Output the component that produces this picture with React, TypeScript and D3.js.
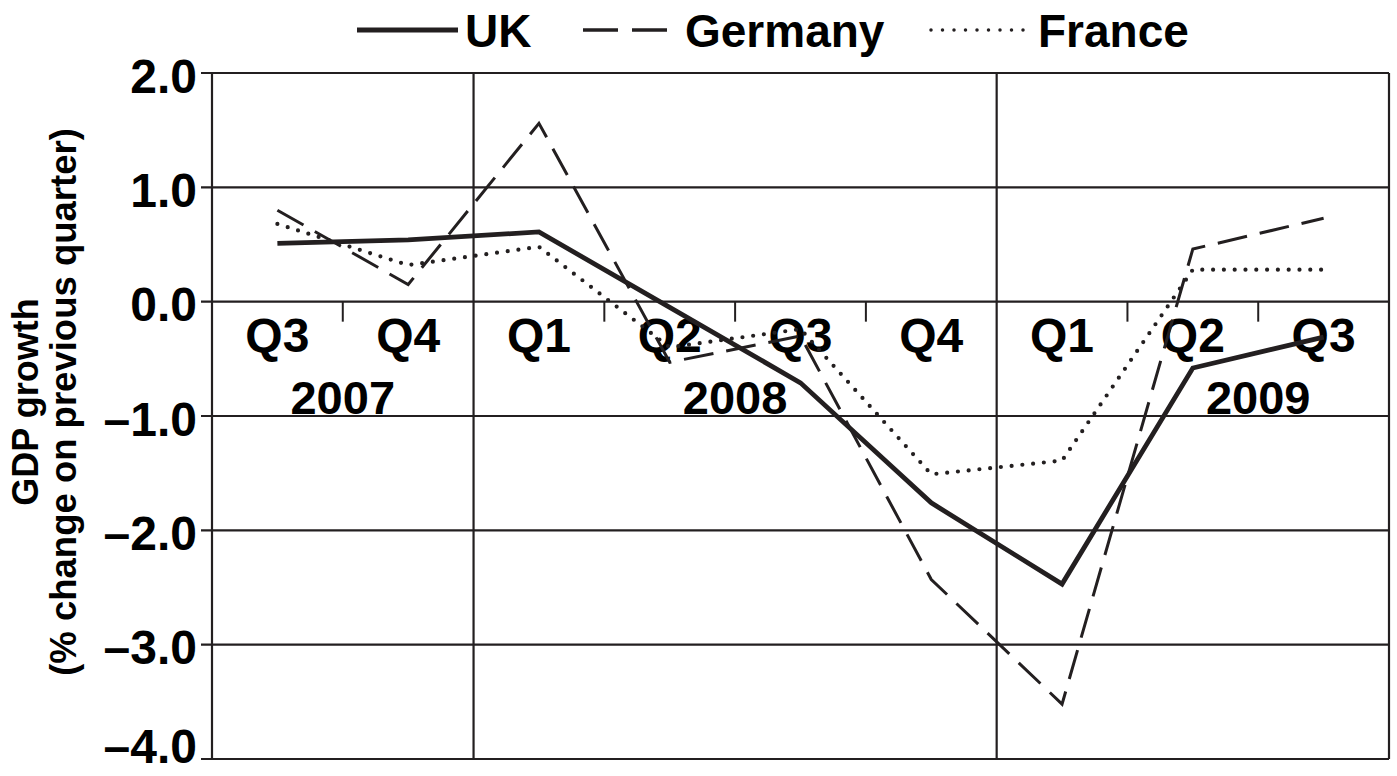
import React from "react";
import * as d3 from "d3";

const quarters = ["Q3", "Q4", "Q1", "Q2", "Q3", "Q4", "Q1", "Q2", "Q3"];
const years = ["2007", "2008", "2009"];
const yearBoundary = [1, 4, 8]; // year label sits on these quarter boundaries
const yearDividers = [2, 6];
const uk = [0.51, 0.54, 0.61, -0.05, -0.71, -1.76, -2.47, -0.58, -0.31];
const germany = [0.8, 0.15, 1.56, -0.53, -0.3, -2.43, -3.52, 0.46, 0.73];
const france = [0.68, 0.32, 0.48, -0.4, -0.24, -1.51, -1.39, 0.28, 0.28];
const yTicks = [2, 1, 0, -1, -2, -3, -4];

const W = 1397;
const H = 776;
const INK = "#231f20";
const FONT = "'Liberation Sans', Arial, Helvetica, sans-serif";

export default function App() {
  const left = 212;
  const right = 1389;
  const top = 73;
  const bottom = 759;

  const x = d3
    .scaleBand<number>()
    .domain(d3.range(quarters.length))
    .range([left, right])
    .padding(0);
  const bw = x.bandwidth();
  const cx = (i: number) => (x(i) as number) + bw / 2;
  const edge = (i: number) => left + i * bw;

  const y = d3.scaleLinear().domain([-4, 2]).range([bottom, top]);

  const line = d3
    .line<number>()
    .x((_, i) => cx(i))
    .y((d) => y(d));

  const series = [
    { name: "UK", data: uk, width: 4.8, dash: undefined as string | undefined, cap: "butt" },
    { name: "Germany", data: germany, width: 3, dash: "30 13", cap: "butt" },
    { name: "France", data: france, width: 4.2, dash: "0 10.8", cap: "round" },
  ];

  const minorTicks = d3.range(1, quarters.length).filter((i) => !yearDividers.includes(i));

  const legend = [
    { name: "UK", x1: 357, x2: 458, tx: 465, width: 5, dash: undefined as string | undefined, cap: "butt" },
    { name: "Germany", x1: 583, x2: 668, tx: 685, width: 3.5, dash: "35 14", cap: "butt" },
    { name: "France", x1: 931, x2: 1024, tx: 1038, width: 3.5, dash: "0 11.5", cap: "round" },
  ];

  return (
    <svg
      width={W}
      height={H}
      style={{ position: "absolute", left: 0, top: 0, background: "#fff" }}
      fontFamily={FONT}
      fontWeight="bold"
    >
      <rect x={0} y={0} width={W} height={H} fill="#fff" />
      {/* horizontal grid */}
      {yTicks.map((t) => (
        <line key={"h" + t} x1={left - 11} x2={right} y1={y(t)} y2={y(t)} stroke={INK} strokeWidth={2.2} />
      ))}
      {/* vertical frame and dividers */}
      <line x1={left} x2={left} y1={top} y2={bottom} stroke={INK} strokeWidth={2.2} />
      <line x1={right} x2={right} y1={top} y2={bottom} stroke={INK} strokeWidth={2.2} />
      {yearDividers.map((i) => (
        <line key={"v" + i} x1={edge(i)} x2={edge(i)} y1={top} y2={bottom} stroke={INK} strokeWidth={2.2} />
      ))}
      {/* minor ticks under zero line */}
      {minorTicks.map((i) => (
        <line key={"t" + i} x1={edge(i)} x2={edge(i)} y1={y(0)} y2={y(0) + 20} stroke={INK} strokeWidth={2} />
      ))}
      {/* y tick labels */}
      {yTicks.map((t) => (
        <text
          key={"yl" + t}
          x={197}
          y={Math.max(y(0) - 1000, Math.min(y(t) + 3, 746))}
          dy="0.35em"
          textAnchor="end"
          fontSize={48}
          fill="#000"
        >
          {t < 0 ? "\u2013" + Math.abs(t).toFixed(1) : t.toFixed(1)}
        </text>
      ))}
      {/* quarter labels */}
      {quarters.map((q, i) => (
        <text key={"q" + i} x={cx(i)} y={352} textAnchor="middle" fontSize={48} fill="#000">
          {q}
        </text>
      ))}
      {years.map((yr, i) => (
        <text key={"yr" + yr} x={edge(yearBoundary[i])} y={414} textAnchor="middle" fontSize={47} fill="#000">
          {yr}
        </text>
      ))}
      {/* series */}
      {series.map((s) => (
        <path
          key={s.name}
          d={line(s.data) as string}
          fill="none"
          stroke={INK}
          strokeWidth={s.width}
          strokeDasharray={s.dash}
          strokeLinecap={s.cap as any}
          strokeLinejoin="miter"
        />
      ))}
      {/* legend */}
      {legend.map((l) => (
        <g key={"lg" + l.name}>
          <line
            x1={l.x1}
            x2={l.x2}
            y1={30}
            y2={30}
            stroke={INK}
            strokeWidth={l.width}
            strokeDasharray={l.dash}
            strokeLinecap={l.cap as any}
          />
          <text x={l.tx} y={47} fontSize={46} fill="#000">
            {l.name}
          </text>
        </g>
      ))}
      {/* y axis title */}
      <g transform={`translate(0, 402)`}>
        <text transform="rotate(-90)" x={0} y={38} textAnchor="middle" fontSize={36} fill="#000">
          GDP growth
        </text>
        <text transform="rotate(-90)" x={0} y={76} textAnchor="middle" fontSize={36.5} fill="#000">
          (% change on previous quarter)
        </text>
      </g>
    </svg>
  );
}
